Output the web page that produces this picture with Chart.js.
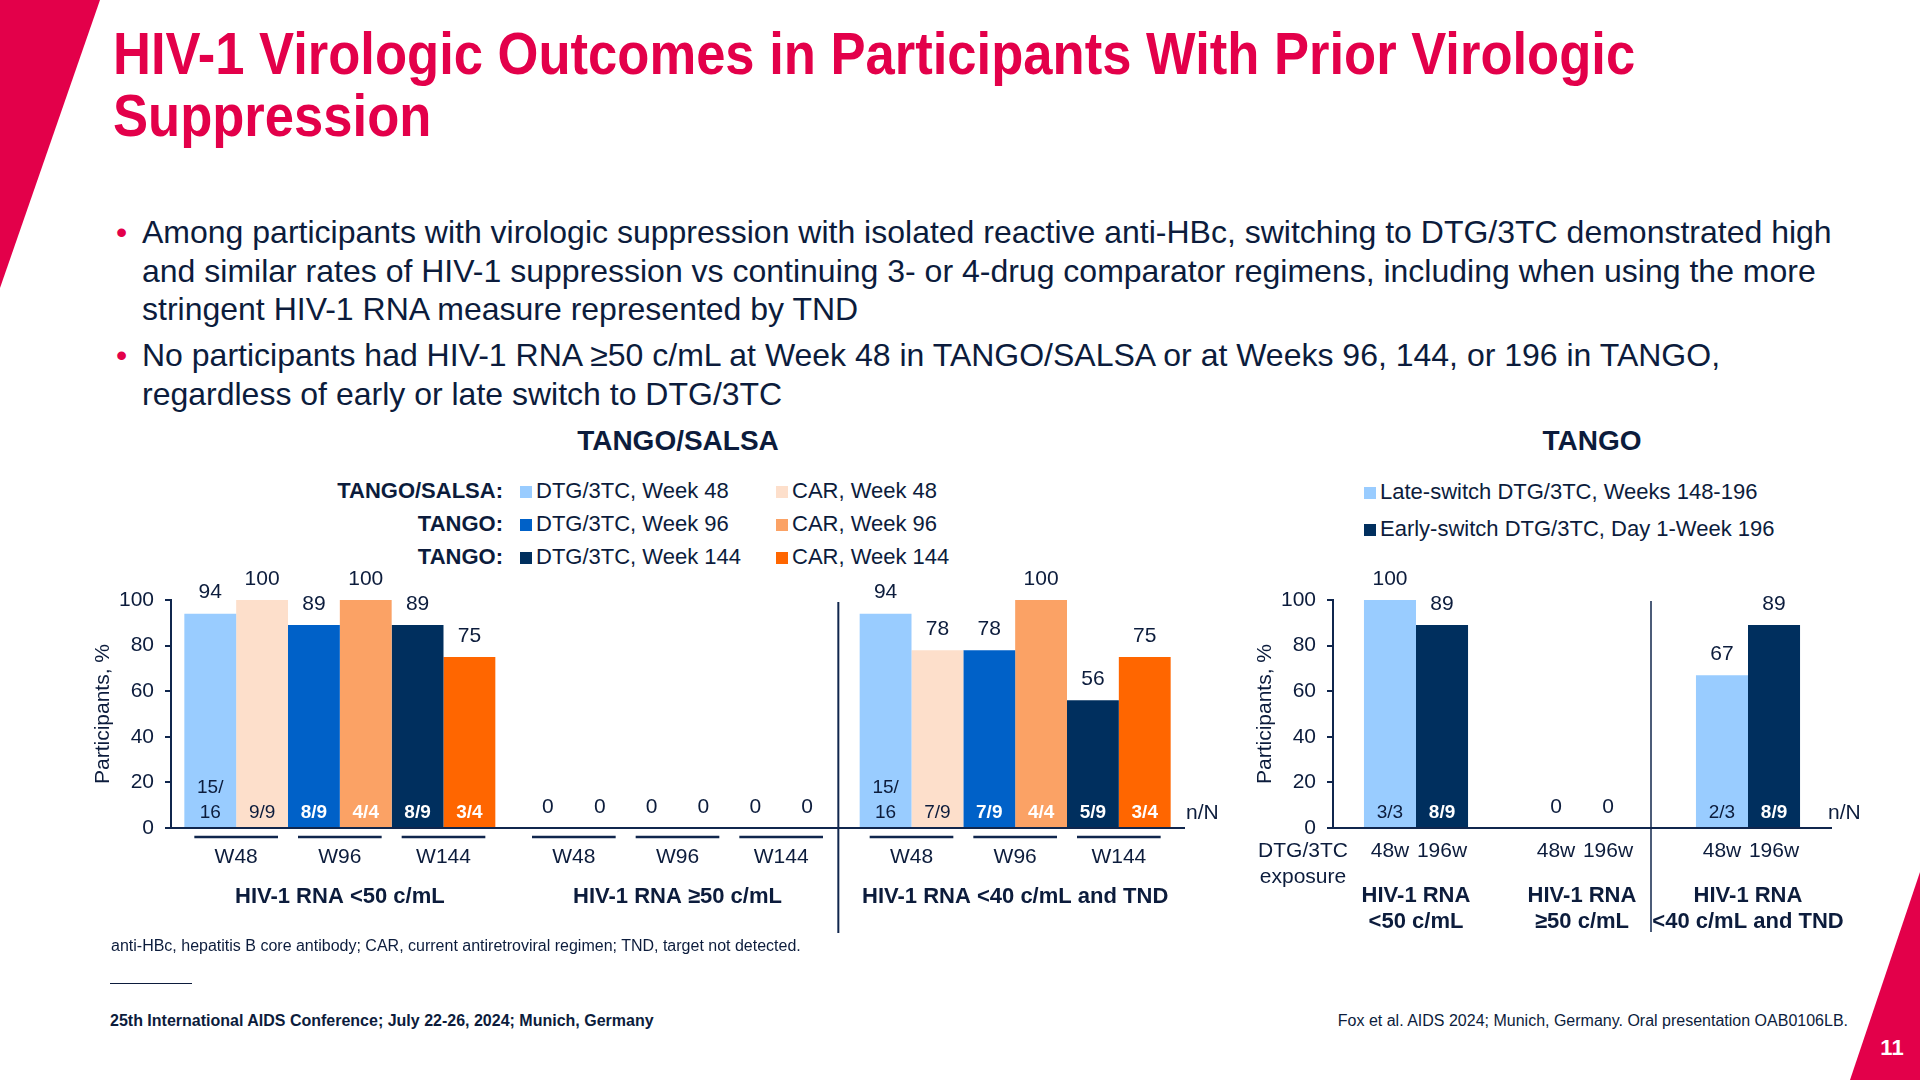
<!DOCTYPE html>
<html>
<head>
<meta charset="utf-8">
<script src="https://cdn.jsdelivr.net/npm/chart.js@4.4.1/dist/chart.umd.min.js"></script>
<style>
  body { margin: 0; width: 1920px; height: 1080px; position: relative; overflow: hidden; background: #fff;
         font-family: 'Liberation Sans', Arial, sans-serif; color: #0c1c3c; }
  .abs { position: absolute; white-space: nowrap; line-height: 1; }
  #title { left: 113px; top: 23px; font-weight: bold; font-size: 60px; line-height: 62px; color: #e3004a;
           transform: scaleX(0.876); transform-origin: 0 0; }
  .bullets { left: 142px; font-size: 32px; line-height: 38.5px; }
  .bullets .dot { position: absolute; left: -26px; top: 0; color: #e3004a; }
  .head { font-weight: bold; font-size: 28px; width: 400px; text-align: center; }
  .leg { font-size: 22px; }
  .legKey { font-weight: bold; font-size: 22px; text-align: right; width: 300px; }
  .sq { position: absolute; width: 12px; height: 12px; }
  .foot { font-size: 16px; }
  canvas { position: absolute; }
</style>
</head>
<body>
<svg class="abs" style="left:0;top:0" width="1920" height="1080">
  <polygon points="0,0 100,0 0,288" fill="#e3004a"/>
  <polygon points="1920,872 1920,1080 1850,1080" fill="#e3004a"/>
</svg>

<div id="title" class="abs">HIV-1 Virologic Outcomes in Participants With Prior Virologic<br>Suppression</div>

<div class="abs bullets" style="top:213px">
  <span class="dot">•</span>Among participants with virologic suppression with isolated reactive anti-HBc, switching to DTG/3TC demonstrated high<br>and similar rates of HIV-1 suppression vs continuing 3- or 4-drug comparator regimens, including when using the more<br>stringent HIV-1 RNA measure represented by TND
</div>
<div class="abs bullets" style="top:336px">
  <span class="dot">•</span>No participants had HIV-1 RNA ≥50 c/mL at Week 48 in TANGO/SALSA or at Weeks 96, 144, or 196 in TANGO,<br>regardless of early or late switch to DTG/3TC
</div>

<div class="abs head" style="left:478px;top:427px">TANGO/SALSA</div>
<div class="abs head" style="left:1392px;top:427px">TANGO</div>

<div id="legendLeft"></div>
<div id="legendRight"></div>

<canvas id="tangoSalsa" width="1250" height="480" style="left:0;top:470px"></canvas>
<canvas id="tango" width="680" height="480" style="left:1240px;top:470px"></canvas>

<div class="abs foot" style="left:111px;top:938px">anti-HBc, hepatitis B core antibody; CAR, current antiretroviral regimen; TND, target not detected.</div>
<div class="abs" style="left:110px;top:983px;width:82px;height:1px;background:#0c1c3c"></div>
<div class="abs foot" style="left:110px;top:1013px;font-weight:bold">25th International AIDS Conference; July 22-26, 2024; Munich, Germany</div>
<div class="abs foot" style="left:1248px;width:600px;text-align:right;top:1013px">Fox et al. AIDS 2024; Munich, Germany. Oral presentation OAB0106LB.</div>
<div class="abs" style="left:1872px;width:40px;text-align:center;top:1037px;font-size:22px;font-weight:bold;color:#fff">11</div>

<script>
// TANGO/SALSA panel
const groupLabels = ['HIV-1 RNA <50 c/mL', 'HIV-1 RNA ≥50 c/mL', 'HIV-1 RNA <40 c/mL and TND'];
const weekLabels = ['W48', 'W96', 'W144'];
const dtgWeek48 = [94, 0, 94];
const carWeek48 = [100, 0, 78];
const dtgWeek96 = [89, 0, 78];
const carWeek96 = [100, 0, 100];
const dtgWeek144 = [89, 0, 56];
const carWeek144 = [75, 0, 75];
const nDtgWeek48 = ['15/16', '', '15/16'];
const nCarWeek48 = ['9/9', '', '7/9'];
const nDtgWeek96 = ['8/9', '', '7/9'];
const nCarWeek96 = ['4/4', '', '4/4'];
const nDtgWeek144 = ['8/9', '', '5/9'];
const nCarWeek144 = ['3/4', '', '3/4'];

// TANGO panel
const tangoGroups = [['HIV-1 RNA', '<50 c/mL'], ['HIV-1 RNA', '≥50 c/mL'], ['HIV-1 RNA', '<40 c/mL and TND']];
const exposureLabels = ['48w', '196w'];
const lateSwitch = [100, 0, 67];
const earlySwitch = [89, 0, 89];
const nLateSwitch = ['3/3', '', '2/3'];
const nEarlySwitch = ['8/9', '', '8/9'];

const INK = '#0c1c3c';
const LINE = '#10264d';
const FONT = "'Liberation Sans', Arial, sans-serif";

const leftSeries = [
  { label: 'DTG/3TC, Week 48', data: dtgWeek48, nN: nDtgWeek48, color: '#99ccff', ink: INK, bold: false },
  { label: 'CAR, Week 48', data: carWeek48, nN: nCarWeek48, color: '#fddfcb', ink: INK, bold: false },
  { label: 'DTG/3TC, Week 96', data: dtgWeek96, nN: nDtgWeek96, color: '#0061c8', ink: '#fff', bold: true },
  { label: 'CAR, Week 96', data: carWeek96, nN: nCarWeek96, color: '#fba265', ink: '#fff', bold: true },
  { label: 'DTG/3TC, Week 144', data: dtgWeek144, nN: nDtgWeek144, color: '#002f5e', ink: '#fff', bold: true },
  { label: 'CAR, Week 144', data: carWeek144, nN: nCarWeek144, color: '#ff6600', ink: '#fff', bold: true }
];
const rightSeries = [
  { label: 'Late-switch DTG/3TC, Weeks 148-196', data: lateSwitch, nN: nLateSwitch, color: '#99ccff', ink: INK, bold: false },
  { label: 'Early-switch DTG/3TC, Day 1-Week 196', data: earlySwitch, nN: nEarlySwitch, color: '#002f5e', ink: '#fff', bold: true }
];

// legends (html)
const legendKeys = ['TANGO/SALSA:', 'TANGO:', 'TANGO:'];
let html = '';
legendKeys.forEach((key, r) => {
  const top = 480 + r * 33;
  html += `<div class="abs legKey" style="left:203px;top:${top}px">${key}</div>`;
  [0, 1].forEach(c => {
    const s = leftSeries[r * 2 + c];
    const sx = c === 0 ? 520 : 776;
    html += `<div class="sq" style="left:${sx}px;top:${top + 6}px;background:${s.color}"></div>`;
    html += `<div class="abs leg" style="left:${sx + 16}px;top:${top}px">${s.label}</div>`;
  });
});
document.getElementById('legendLeft').innerHTML = html;
html = '';
rightSeries.forEach((s, r) => {
  const top = 481 + r * 37;
  html += `<div class="sq" style="left:1364px;top:${top + 6}px;background:${s.color}"></div>`;
  html += `<div class="abs leg" style="left:1380px;top:${top}px">${s.label}</div>`;
});
document.getElementById('legendRight').innerHTML = html;

function txt(ctx, s, x, y, size, color, bold, align) {
  ctx.font = (bold ? 'bold ' : '') + size + 'px ' + FONT;
  ctx.fillStyle = color;
  ctx.textAlign = align || 'center';
  ctx.textBaseline = 'middle';
  ctx.fillText(s, x, y);
}
function rule(ctx, x1, y1, x2, y2, w) {
  ctx.strokeStyle = LINE;
  ctx.lineWidth = w;
  ctx.beginPath();
  ctx.moveTo(x1, y1);
  ctx.lineTo(x2, y2);
  ctx.stroke();
}

// value labels above bars, n/N inside bars
function barLabels(chart, series) {
  const { ctx, scales: { y } } = chart;
  const base = y.getPixelForValue(0);
  series.forEach((s, i) => {
    chart.getDatasetMeta(i).data.forEach((bar, j) => {
      txt(ctx, String(s.data[j]), bar.x, bar.y - 21, 21, INK, false);
      const nn = s.nN[j];
      if (!nn) return;
      if (nn.length > 4) {
        const cut = nn.indexOf('/') + 1;
        txt(ctx, nn.slice(0, cut), bar.x, base - 40, 19, s.ink, s.bold);
        txt(ctx, nn.slice(cut), bar.x, base - 15, 19, s.ink, s.bold);
      } else {
        txt(ctx, nn, bar.x, base - 15, 19, s.ink, s.bold);
      }
    });
  });
}

const tangoSalsaLabels = {
  id: 'tangoSalsaLabels',
  afterDatasetsDraw(chart) {
    const { ctx, chartArea: area, scales: { x, y } } = chart;
    const base = y.getPixelForValue(0);
    ctx.save();
    barLabels(chart, leftSeries);
    groupLabels.forEach((g, j) => {
      weekLabels.forEach((w, k) => {
        const a = chart.getDatasetMeta(2 * k).data[j];
        const b = chart.getDatasetMeta(2 * k + 1).data[j];
        rule(ctx, a.x - a.width / 2 + 10, base + 9, b.x + b.width / 2 - 10, base + 9, 2.5);
        txt(ctx, w, (a.x + b.x) / 2, base + 29, 21, INK, false);
      });
      txt(ctx, g, x.getPixelForValue(j), base + 69, 22, INK, true);
    });
    const dx = (x.getPixelForValue(1) + x.getPixelForValue(2)) / 2 - 8;
    rule(ctx, dx, area.top + 2, dx, base + 105, 2);
    txt(ctx, 'n/N', area.right + 2, base - 15, 21, INK, false, 'left');
    ctx.restore();
  }
};

const tangoLabels = {
  id: 'tangoLabels',
  afterDatasetsDraw(chart) {
    const { ctx, chartArea: area, scales: { x, y } } = chart;
    const base = y.getPixelForValue(0);
    ctx.save();
    barLabels(chart, rightSeries);
    tangoGroups.forEach((g, j) => {
      rightSeries.forEach((s, i) => {
        const bar = chart.getDatasetMeta(i).data[j];
        txt(ctx, exposureLabels[i], bar.x, base + 23, 21, INK, false);
      });
      txt(ctx, g[0], x.getPixelForValue(j), base + 68, 22, INK, true);
      txt(ctx, g[1], x.getPixelForValue(j), base + 94, 22, INK, true);
    });
    txt(ctx, 'DTG/3TC', area.left - 30, base + 23, 21, INK, false);
    txt(ctx, 'exposure', area.left - 30, base + 49, 21, INK, false);
    const dx = (x.getPixelForValue(1) + x.getPixelForValue(2)) / 2 - 14;
    rule(ctx, dx, area.top + 1, dx, base + 104, 1.5);
    txt(ctx, 'n/N', area.right - 3, base - 15, 21, INK, false, 'left');
    ctx.restore();
  }
};

function panelOptions(pad, yWidth) {
  return {
    responsive: false,
    animation: false,
    devicePixelRatio: 1,
    layout: { padding: pad },
    plugins: { legend: { display: false }, tooltip: { enabled: false } },
    scales: {
      x: {
        ticks: { display: false },
        grid: { display: false },
        border: { display: true, color: LINE, width: 2 },
        afterFit(scale) { scale.height = 0; }
      },
      y: {
        min: 0,
        max: 100,
        ticks: { stepSize: 20, color: INK, padding: 11, font: { family: FONT, size: 21 } },
        grid: { display: true, drawOnChartArea: false, drawTicks: true, tickLength: 6, color: LINE, lineWidth: 2 },
        border: { display: true, color: LINE, width: 2 },
        title: { display: true, text: 'Participants, %', color: INK, padding: 0, font: { family: FONT, size: 21 } },
        afterFit(scale) { scale.width = yWidth; }
      }
    }
  };
}

new Chart(document.getElementById('tangoSalsa').getContext('2d'), {
  type: 'bar',
  data: {
    labels: groupLabels,
    datasets: leftSeries.map(s => ({
      label: s.label,
      data: s.data,
      backgroundColor: s.color,
      borderWidth: 0,
      categoryPercentage: 0.921,
      barPercentage: 1
    }))
  },
  options: panelOptions({ left: 91, top: 130, right: 66, bottom: 122 }, 80),
  plugins: [tangoSalsaLabels]
});

new Chart(document.getElementById('tango').getContext('2d'), {
  type: 'bar',
  data: {
    labels: tangoGroups.map(g => g.join(' ')),
    datasets: rightSeries.map(s => ({
      label: s.label,
      data: s.data,
      backgroundColor: s.color,
      borderWidth: 0,
      categoryPercentage: 0.627,
      barPercentage: 1
    }))
  },
  options: panelOptions({ left: 13, top: 130, right: 89, bottom: 122 }, 80),
  plugins: [tangoLabels]
});
</script>
</body>
</html>
